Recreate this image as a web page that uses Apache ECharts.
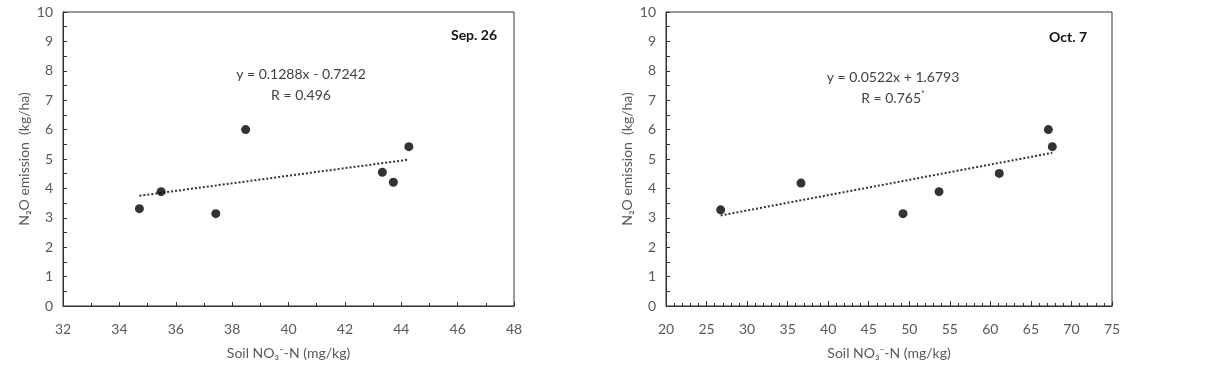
<!DOCTYPE html>
<html>
<head>
<meta charset="utf-8">
<script src="https://cdn.jsdelivr.net/npm/echarts@6/dist/echarts.min.js"></script>
<style>
    html, body {margin: 0; padding: 0; background: #fff;}
    #chart {width: 1206px; height: 365px;}
</style>
</head>
<body>
<div id="chart"></div>
<script>
// Sep. 26 panel
const sepPoints = [[34.71, 3.31], [35.48, 3.89], [37.42, 3.14], [38.48, 6.0], [43.33, 4.55], [43.72, 4.21], [44.27, 5.42]];
const sepTrend = [[34.71, 3.75], [44.27, 4.98]];
// Oct. 7 panel
const octPoints = [[26.74, 3.27], [36.65, 4.18], [49.23, 3.14], [53.67, 3.89], [61.1, 4.51], [67.15, 6.0], [67.64, 5.42]];
const octTrend = [[26.74, 3.08], [67.64, 5.21]];

const panelLabels = ["Sep. 26", "Oct. 7"];
const equations = ["y = 0.1288x - 0.7242", "y = 0.0522x + 1.6793"];
const rValues = ["R = 0.496", "R = 0.765{sup|*}"];

const font = "Lato, 'Open Sans', sans-serif";
const axisColor = "#333";
const textColor = "#595959";

const chart = echarts.init(document.getElementById("chart"));

function makeX(idx, min, max, interval, minorSplit, majorLen) {
    return {
        type: "value",
        gridIndex: idx,
        min: min,
        max: max,
        interval: interval,
        name: "Soil NO₃⁻-N (mg/kg)",
        nameLocation: "middle",
        nameGap: 40,
        nameTextStyle: {color: textColor, fontFamily: font, fontSize: 14},
        axisLine: {lineStyle: {color: axisColor, width: 1}},
        axisTick: {inside: true, length: majorLen, lineStyle: {color: axisColor}},
        minorTick: {show: true, splitNumber: minorSplit, length: 3, lineStyle: {color: axisColor}},
        splitLine: {show: false},
        axisLabel: {color: textColor, fontFamily: font, fontSize: 14, margin: 16}
    };
}

function makeY(idx) {
    return {
        type: "value",
        gridIndex: idx,
        min: 0,
        max: 10,
        interval: 1,
        name: "N₂O emission  (kg/ha)",
        nameLocation: "middle",
        nameGap: 32,
        nameTextStyle: {color: textColor, fontFamily: font, fontSize: 14},
        axisLine: {lineStyle: {color: axisColor, width: 1}},
        axisTick: {inside: true, length: 4, lineStyle: {color: axisColor}},
        minorTick: {show: true, splitNumber: 2, length: 4, lineStyle: {color: axisColor}},
        splitLine: {show: false},
        axisLabel: {color: textColor, fontFamily: font, fontSize: 14, margin: 10}
    };
}

function scatter(idx, data) {
    return {
        type: "scatter",
        xAxisIndex: idx,
        yAxisIndex: idx,
        symbolSize: 9,
        itemStyle: {color: "#000"},
        data: data,
        z: 3
    };
}

function trend(idx, data) {
    return {
        type: "line",
        xAxisIndex: idx,
        yAxisIndex: idx,
        showSymbol: false,
        lineStyle: {type: "dotted", width: 2, color: "#333"},
        data: data,
        z: 2
    };
}

const labelPos = [[474, 35], [1068, 37]];
const eqPos = [[301, 74], [893, 77]];

const graphics = [];
for (let i = 0; i < 2; i++) {
    graphics.push({
        type: "text",
        x: labelPos[i][0],
        y: labelPos[i][1],
        style: {text: panelLabels[i], font: "bold 14px " + font, fill: "#111", align: "center", verticalAlign: "middle"}
    });
    graphics.push({
        type: "text",
        x: eqPos[i][0],
        y: eqPos[i][1],
        style: {text: equations[i], font: "14px " + font, fill: "#404040", align: "center", verticalAlign: "middle"}
    });
    graphics.push({
        type: "text",
        x: eqPos[i][0],
        y: eqPos[i][1] + 21,
        style: {
            text: rValues[i],
            font: "14px " + font,
            fill: "#404040",
            align: "center",
            verticalAlign: "middle",
            rich: {sup: {fontSize: 9, fontFamily: font, fill: "#404040", padding: [0, 0, 7, 0]}}
        }
    });
}

chart.setOption({
    animation: false,
    grid: [
        {left: 63, right: 692, top: 12, bottom: 58, show: true, borderColor: axisColor, borderWidth: 1},
        {left: 666, right: 94, top: 12, bottom: 58, show: true, borderColor: axisColor, borderWidth: 1}
    ],
    xAxis: [makeX(0, 32, 48, 2, 2, 4), makeX(1, 20, 75, 5, 5, 5)],
    yAxis: [makeY(0), makeY(1)],
    series: [
        trend(0, sepTrend), scatter(0, sepPoints),
        trend(1, octTrend), scatter(1, octPoints)
    ],
    graphic: graphics
});
</script>
</body>
</html>
